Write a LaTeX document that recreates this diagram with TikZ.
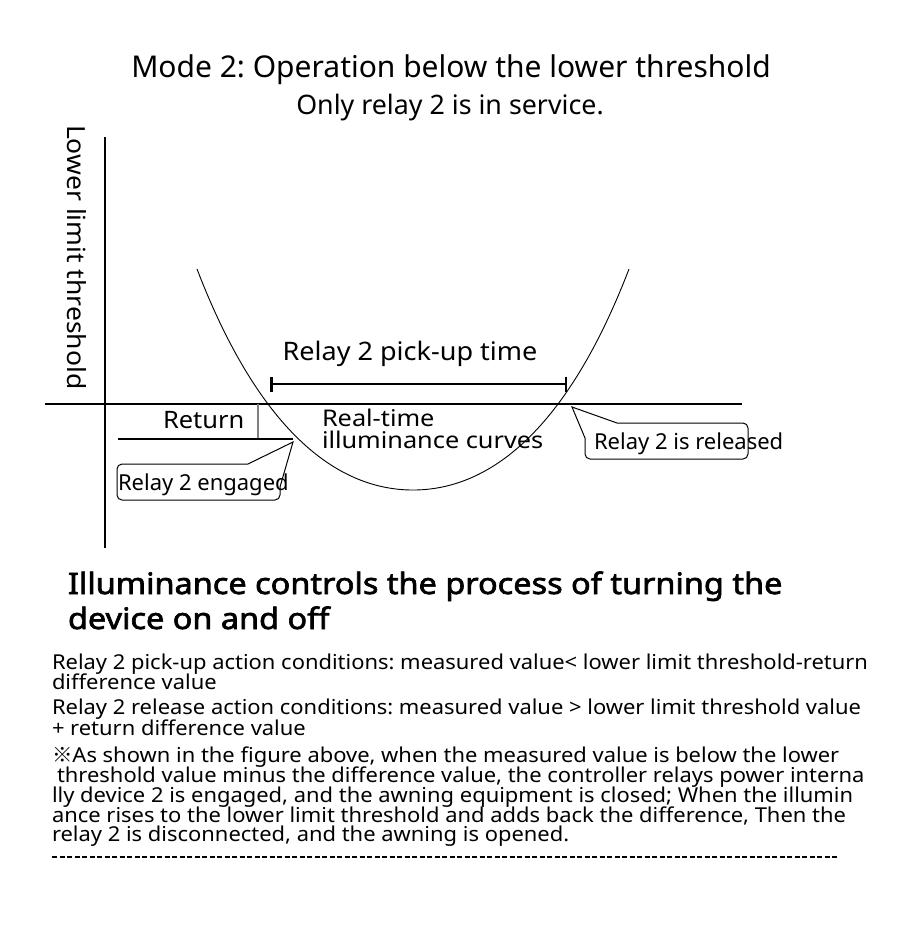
\documentclass[tikz,border=0pt]{standalone}
\usepackage{fontspec}
\setmainfont{Noto Sans}
\newfontfamily\widefont[FakeStretch=1.06]{Noto Sans}
\newfontfamily\curvefont[FakeStretch=1.1]{Noto Sans}
\newfontfamily\bodyfont[FakeStretch=1.07]{Noto Sans}
\newfontfamily\headfont[FakeStretch=1.1, FakeBold=2.2]{Noto Sans}
\newfontfamily\cjk{Noto Sans CJK SC}
\usetikzlibrary{arrows.meta}
\frenchspacing
\begin{document}
\begin{tikzpicture}[x=1pt, y=-1pt, inner sep=0pt, outer sep=0pt,
	axis/.style={line width=2.5pt},
	lbl/.style={font=\fontsize{22}{26}\selectfont},
	callout/.style={line width=1pt},
	headline/.style={anchor=base west, font=\headfont\fontsize{29.5}{34}\selectfont},
	bodyline/.style={anchor=base west, font=\bodyfont\fontsize{20.5}{24}\selectfont}]
	\useasboundingbox (0,0) rectangle (900,946);

	% titles
	\node[anchor=base, font=\fontsize{30}{36}\selectfont] (title) at (451, 77) {Mode 2: Operation below the lower threshold};
	\node[anchor=base, font=\fontsize{26.8}{30}\selectfont] (sub) at (450, 114) {Only relay 2 is in service.};

	% axes
	\coordinate (xl) at (45, 404);
	\coordinate (xr) at (742, 404);
	\coordinate (yt) at (105, 137);
	\coordinate (yb) at (105, 548);
	\draw[axis] (xl) -- (xr);
	\draw[axis] (yt) -- (yb);
	\node[rotate=-90, anchor=base west, font=\widefont\fontsize{25}{28}\selectfont] (ylab) at (67, 125) {Lower limit threshold};

	% illuminance curve
	\coordinate (cl) at (197, 269);
	\coordinate (cb) at (413, 490);
	\coordinate (cr) at (629, 269);
	\draw[line width=0.9pt] (cl) .. controls (255, 420) and (330, 490) .. (cb)
		.. controls (496, 490) and (571, 420) .. (cr);
	\node[anchor=base west, font=\curvefont\fontsize{23}{26}\selectfont] (real) at (322, 426) {Real-time};
	\node[anchor=base west, font=\curvefont\fontsize{23}{26}\selectfont] (curve) at (322, 448) {illuminance curves};

	% pick-up time
	\coordinate (pl) at (270, 384);
	\coordinate (pr) at (567, 384);
	\draw[line width=2.5pt, {Bar[width=15pt]}-{Bar[width=15pt]}] (pl) -- (pr);
	\node[anchor=base, font=\widefont\fontsize{25.5}{28}\selectfont] (ptime) at (410, 360) {Relay 2 pick-up time};

	% return difference
	\node[anchor=base west, font=\widefont\fontsize{24}{28}\selectfont] (ret) at (163, 428) {Return};
	\coordinate (rt) at (258, 404);
	\coordinate (rb) at (258, 439);
	\coordinate (hl) at (118, 439);
	\coordinate (hr) at (293, 439);
	\draw[line width=1.5pt, gray] (rt) -- (rb);
	\draw[line width=1.5pt] (hl) -- (hr);

	% callouts
	\node[lbl, anchor=base west] (engaged) at (118, 490) {Relay 2 engaged};
	\draw[callout] (248, 464) -- (293, 442) -- (280, 487) [rounded corners=5pt] -- (280, 500)
		-- (117, 500) -- (117, 464) -- (248, 464);
	\node[lbl, anchor=base west] (released) at (594, 449) {Relay 2 is released};
	\draw[callout] (617, 423) -- (572, 407) -- (585, 438) [rounded corners=5pt] -- (585, 459)
		-- (748, 459) -- (748, 423) -- (617, 423);

	% explanation
	\node[headline] (head1) at (68, 594) {Illuminance controls the process of turning the};
	\node[headline] (head2) at (68, 629) {device on and off};

	\node[bodyline] (l1) at (52, 669) {Relay 2 pick-up action conditions: measured value< lower limit threshold-return};
	\node[bodyline] (l2) at (52, 689) {difference value};
	\node[bodyline] (l3) at (52, 714) {Relay 2 release action conditions: measured value > lower limit threshold value};
	\node[bodyline] (l4) at (52, 735) {+ return difference value};
	\node[bodyline] (l5) at (52, 762) {{\cjk ※}As shown in the figure above, when the measured value is below the lower};
	\node[bodyline] (l6) at (57, 782) {threshold value minus the difference value, the controller relays power interna};
	\node[bodyline] (l7) at (52, 802) {lly device 2 is engaged, and the awning equipment is closed; When the illumin};
	\node[bodyline] (l8) at (52, 822) {ance rises to the lower limit threshold and adds back the difference, Then the};
	\node[bodyline] (l9) at (52, 841) {relay 2 is disconnected, and the awning is opened.};

	\coordinate (dl) at (52, 857);
	\coordinate (dr) at (838, 857);
	\draw[line width=2pt, dash pattern=on 5pt off 2.5pt] (dl) -- (dr);
\end{tikzpicture}
\end{document}
